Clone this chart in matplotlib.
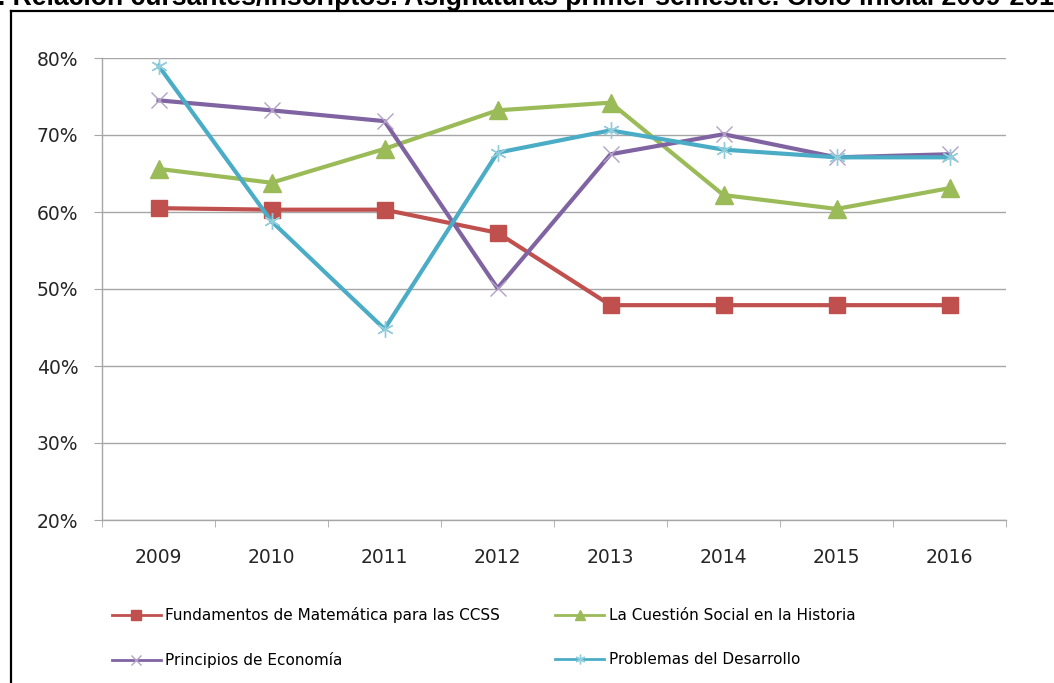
import matplotlib.pyplot as plt
from matplotlib.lines import Line2D
from matplotlib.ticker import FixedLocator, PercentFormatter

years = ['2009', '2010', '2011', '2012', '2013', '2014', '2015', '2016']
fundamentos = [60.5, 60.3, 60.3, 57.3, 47.9, 47.9, 47.9, 47.9]
cuestion = [65.6, 63.8, 68.2, 73.2, 74.2, 62.2, 60.4, 63.1]
principios = [74.5, 73.2, 71.8, 50.1, 67.5, 70.1, 67.1, 67.5]
problemas = [79.0, 58.8, 44.8, 67.7, 70.6, 68.1, 67.1, 67.1]

labels = ['Fundamentos de Matemática para las CCSS', 'La Cuestión Social en la Historia',
          'Principios de Economía', 'Problemas del Desarrollo']
title = '5. Relación cursantes/inscriptos. Asignaturas primer semestre. Ciclo inicial 2009-2016'

colors = ['#C0504D', '#9BBB59', '#8064A2', '#4BACC6']
edge = ['#C0504D', '#9BBB59', '#B3A2C7', '#92CDDC']
markers = ['s', '^', 'x', (6, 2, 0)]
sizes = [12, 12.5, 11, 12]

fig = plt.figure(figsize=(10.54, 6.83), dpi=100)
ax = fig.add_axes([102 / 1054, 1 - 520 / 683, 904 / 1054, 462 / 683])

x = range(len(years))
series = [fundamentos, cuestion, principios, problemas]
for vals, c, ec, m, s in zip(series, colors, edge, markers, sizes):
    ax.plot(x, vals, color=c, lw=3, marker=m, ms=s, mew=1, mec=ec)

ax.set_xlim(-0.5, len(years) - 0.5)
ax.set_ylim(20, 80)
ax.set_yticks(range(20, 81, 10))
ax.yaxis.set_major_formatter(PercentFormatter(decimals=0))
ax.set_xticks(list(x))
ax.set_xticklabels(years)
ax.xaxis.set_minor_locator(FixedLocator([i - 0.5 for i in range(len(years) + 1)]))

ax.grid(axis='y', color='#A6A6A6', lw=1)
ax.set_axisbelow(True)
for s in ['top', 'right']:
    ax.spines[s].set_visible(False)
for s in ['left', 'bottom']:
    ax.spines[s].set_color('#A6A6A6')
    ax.spines[s].set_linewidth(1)

ax.tick_params(axis='y', length=6, color='#A6A6A6', pad=11, labelsize=13.5, labelcolor='#262626')
ax.tick_params(axis='x', which='major', length=0, pad=20, labelsize=13.5, labelcolor='#262626')
ax.tick_params(axis='x', which='minor', length=5, color='#A6A6A6')

# legend is filled row by row: reorder for matplotlib's column-wise layout
handles = [Line2D([], [], color=c, lw=2, marker=m, ms=7, mew=1, mec=ec)
           for c, ec, m in zip(colors, edge, markers)]
order = [0, 2, 1, 3]
ax.legend([handles[i] for i in order], [labels[i] for i in order],
          loc='upper left', bbox_to_anchor=(112 / 1054, 1 - 607 / 683), bbox_transform=fig.transFigure,
          ncol=2, frameon=False, handlelength=3.2, handletextpad=0.3, columnspacing=3.6,
          labelspacing=1.9, borderaxespad=0, borderpad=0,
          prop={'family': ['Liberation Sans Narrow', 'DejaVu Sans'], 'size': 11})

# chart frame (left and top edges visible)
fig.add_artist(Line2D([11 / 1054, 11 / 1054], [0, 1 - 11 / 683], color='black', lw=1.6))
fig.add_artist(Line2D([11 / 1054, 1], [1 - 11 / 683, 1 - 11 / 683], color='black', lw=1.6))

# title runs off the top and the sides, as in the reference
fig.text(-17 / 1054, 1 - 5 / 683, title, fontsize=19.2, fontweight='bold',
         family='Liberation Sans', va='baseline', ha='left')

fig.savefig('out.png', dpi=100)
